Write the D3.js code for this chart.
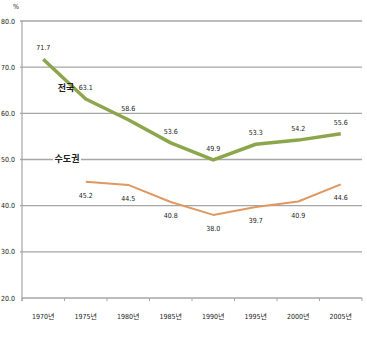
<!DOCTYPE html>
<html>
<head>
<meta charset="utf-8">
<script src="https://cdn.jsdelivr.net/npm/d3@7"></script>
<style>
  html, body { margin: 0; padding: 0; background: #fff; }
  svg { display: block; }
  text { font-family: "DejaVu Sans Condensed", "Liberation Sans Narrow", "Noto Sans CJK KR", sans-serif; fill: #222; }
</style>
</head>
<body>
<svg id="chart" width="367" height="338"></svg>
<script>
// Years on the horizontal axis
const years = ["1970년", "1975년", "1980년", "1985년", "1990년", "1995년", "2000년", "2005년"];
// Nationwide share (%)
const nationwide = [71.7, 63.1, 58.6, 53.6, 49.9, 53.3, 54.2, 55.6];
// Capital region share (%), no value for 1970
const capital = [null, 45.2, 44.5, 40.8, 38.0, 39.7, 40.9, 44.6];
// Y-axis ticks
const yTicks = [20, 30, 40, 50, 60, 70, 80];
const seriesNames = ["전국", "수도권"];

(function () {
  const svg = d3.select("#chart");
  const plotLeft = 22, plotRight = 362, plotTop = 21, plotBottom = 298;

  const x = d3.scaleBand().domain(years).range([plotLeft, plotRight]).padding(0);
  const y = d3.scaleLinear().domain([20, 80]).range([plotBottom, plotTop]);
  const cx = d => x(d) + x.bandwidth() / 2;

  // Horizontal gridlines
  svg.append("g").selectAll("line").data(yTicks.filter(t => t > 20)).join("line")
    .attr("x1", plotLeft - 2).attr("x2", plotRight)
    .attr("y1", d => y(d)).attr("y2", d => y(d))
    .attr("stroke", "#a6a6a6").attr("stroke-width", 1.4);

  // Y axis line and tick labels
  svg.append("line").attr("x1", plotLeft).attr("x2", plotLeft).attr("y1", plotTop).attr("y2", plotBottom + 3)
    .attr("stroke", "#a6a6a6").attr("stroke-width", 1.2);
  svg.append("g").selectAll("text").data(yTicks).join("text")
    .attr("x", 15).attr("y", d => y(d) + 2.5)
    .attr("text-anchor", "end").attr("font-size", 7)
    .text(d => d.toFixed(1));
  svg.append("text").attr("x", 16).attr("y", 9).attr("text-anchor", "middle")
    .attr("font-size", 7).text("%");

  // X axis baseline, ticks and labels
  svg.append("line").attr("x1", plotLeft).attr("x2", plotRight).attr("y1", plotBottom).attr("y2", plotBottom)
    .attr("stroke", "#a6a6a6").attr("stroke-width", 1.4);
  const bounds = years.map(d => x(d)).concat([plotRight]);
  svg.append("g").selectAll("line").data(bounds).join("line")
    .attr("x1", d => d).attr("x2", d => d).attr("y1", plotBottom).attr("y2", plotBottom + 3)
    .attr("stroke", "#a6a6a6").attr("stroke-width", 1);
  svg.append("g").selectAll("text").data(years).join("text")
    .attr("x", d => cx(d)).attr("y", 319)
    .attr("text-anchor", "middle").attr("font-size", 7)
    .text(d => d);

  // Series lines
  const line = d3.line()
    .defined(d => d.v != null)
    .x(d => cx(d.year)).y(d => y(d.v));
  const natData = years.map((yr, i) => ({ year: yr, v: nationwide[i] }));
  const capData = years.map((yr, i) => ({ year: yr, v: capital[i] }));

  svg.append("path").datum(capData).attr("d", line)
    .attr("fill", "none").attr("stroke", "#df9862").attr("stroke-width", 2)
    .attr("stroke-linejoin", "round");
  svg.append("path").datum(natData).attr("d", line)
    .attr("fill", "none").attr("stroke", "#8ca64c").attr("stroke-width", 3.5)
    .attr("stroke-linejoin", "round");

  // Value labels: above for nationwide, below for capital region
  svg.append("g").selectAll("text").data(natData).join("text")
    .attr("x", d => cx(d.year)).attr("y", d => y(d.v) - 9)
    .attr("text-anchor", "middle").attr("font-size", 7)
    .text(d => d.v.toFixed(1));
  svg.append("g").selectAll("text").data(capData.filter(d => d.v != null)).join("text")
    .attr("x", d => cx(d.year)).attr("y", d => y(d.v) + 16)
    .attr("text-anchor", "middle").attr("font-size", 7)
    .text(d => d.v.toFixed(1));

  // Series name labels
  const nameLabels = [
    { name: seriesNames[0], x: 66, y: 91, box: false },
    { name: seriesNames[1], x: 67, y: 162, box: true }
  ];
  const ng = svg.append("g");
  nameLabels.forEach(n => {
    if (n.box) {
      ng.append("rect").attr("x", n.x - 14).attr("y", n.y - 8).attr("width", 28).attr("height", 9)
        .attr("fill", "#fff");
    }
    ng.append("text").attr("x", n.x).attr("y", n.y)
      .attr("text-anchor", "middle").attr("font-size", 9).attr("font-weight", "bold")
      .style("font-family", "'Noto Sans CJK KR', sans-serif")
      .text(n.name);
  });
})();
</script>
</body>
</html>
